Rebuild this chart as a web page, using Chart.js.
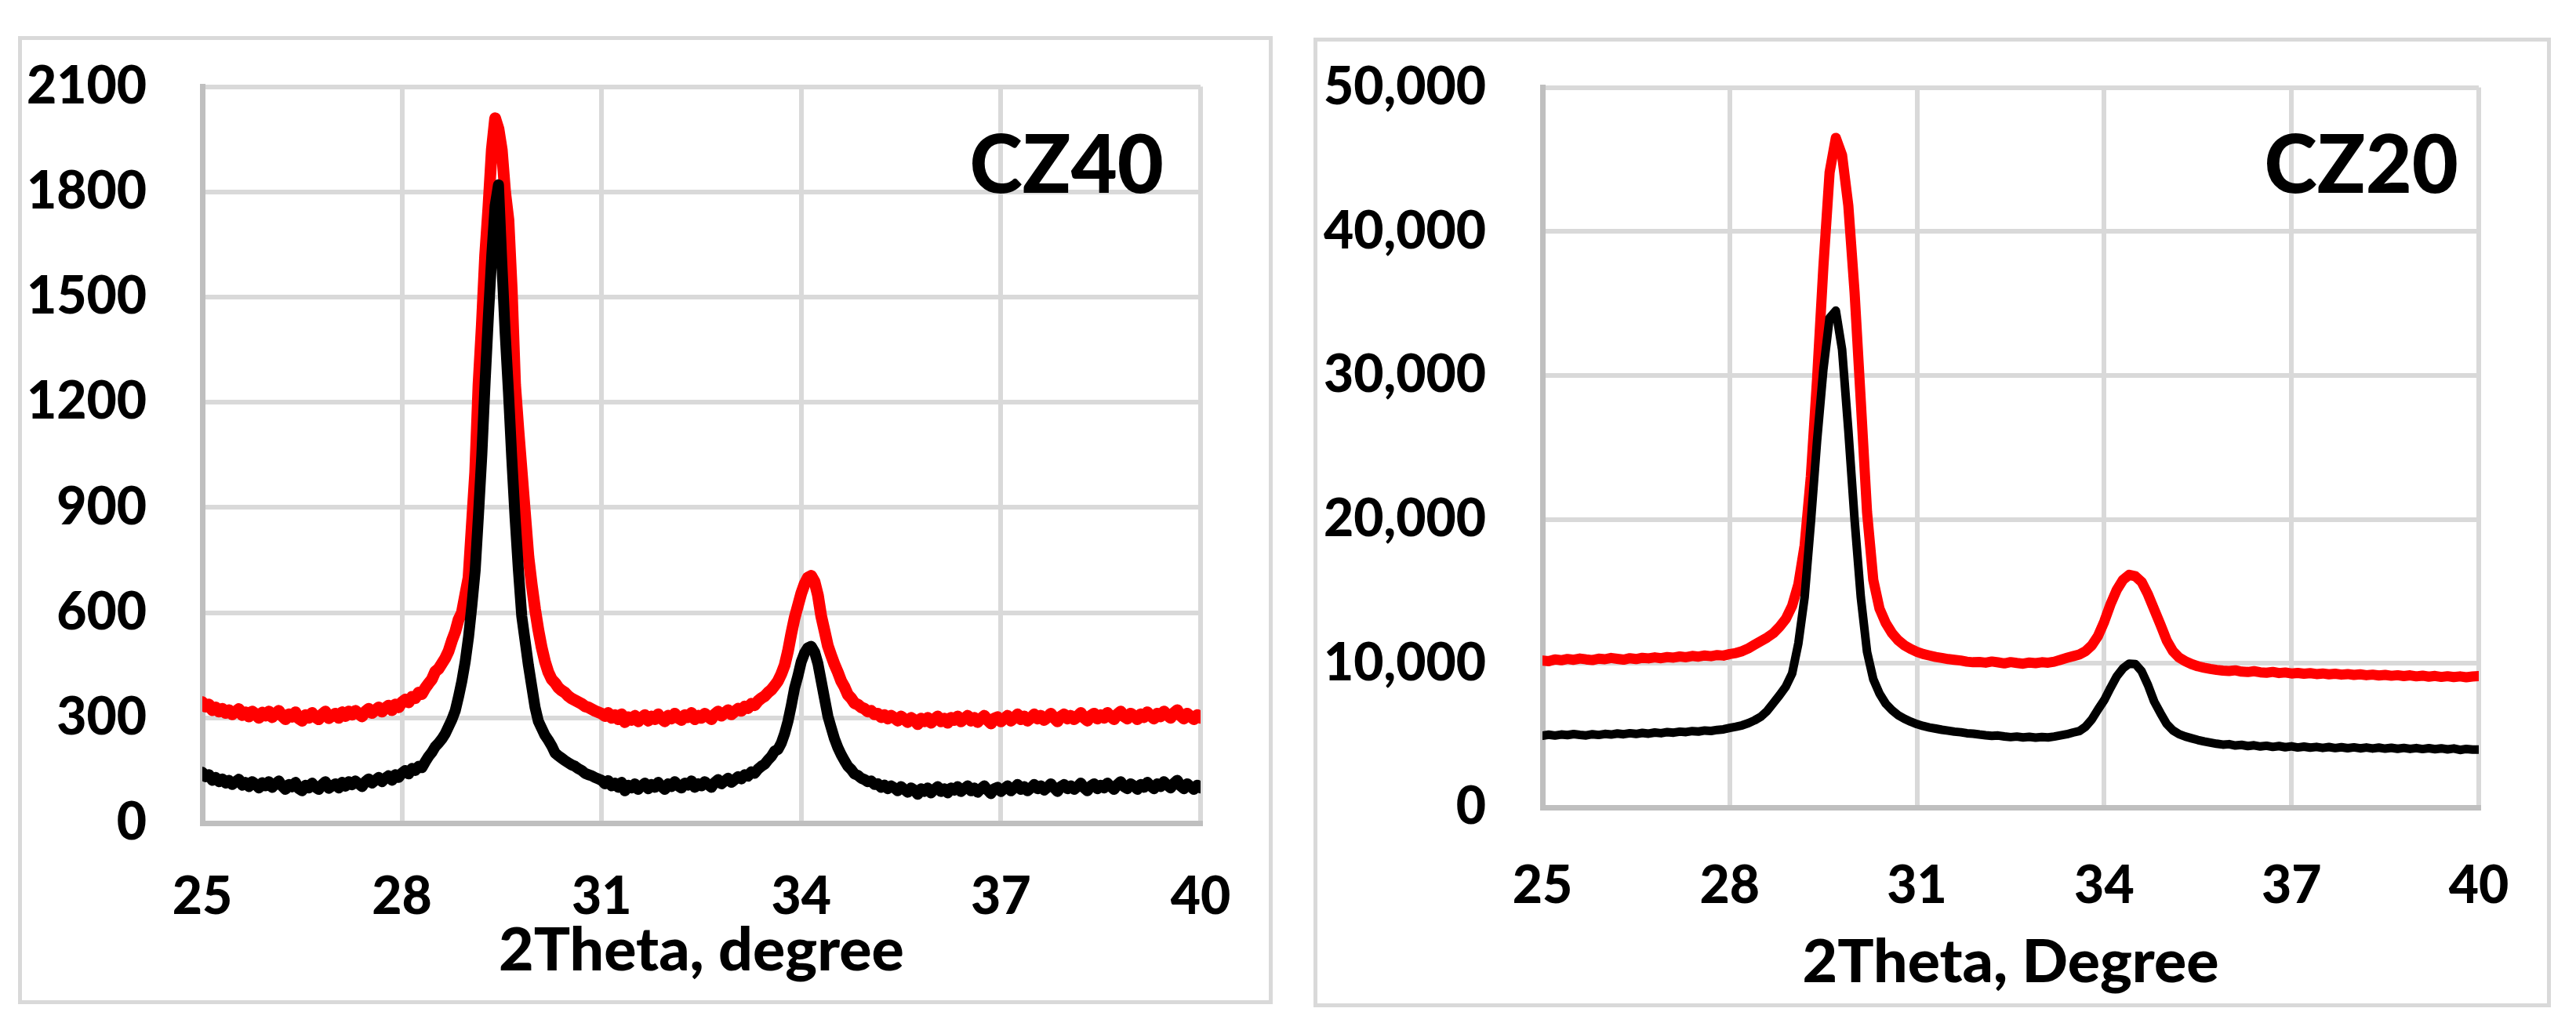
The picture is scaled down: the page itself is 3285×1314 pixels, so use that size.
<!DOCTYPE html>
<html>
<head>
<meta charset="utf-8">
<title>CZ40 / CZ20 XRD</title>
<script src="https://cdn.jsdelivr.net/npm/chart.js@4.4.0/dist/chart.umd.min.js"></script>
<style>
  html, body { margin: 0; padding: 0; background: #fff; }
  body { width: 3285px; height: 1314px; position: relative; overflow: hidden; }
  .panel { position: absolute; box-sizing: border-box; border: 5px solid #d9d9d9; }
  #panelLeft { left: 23px; top: 46px; width: 1600px; height: 1235px; }
  #panelRight { left: 1675px; top: 48px; width: 1578px; height: 1237px; }
  canvas { position: absolute; top: 0; }
  #chartLeft { left: 0; }
  #chartRight { left: 1650px; }
</style>
</head>
<body>
<div class="panel" id="panelLeft"></div>
<div class="panel" id="panelRight"></div>
<canvas id="chartLeft" width="1650" height="1314"></canvas>
<canvas id="chartRight" width="1635" height="1314"></canvas>
<script>
// 2Theta positions, CZ40 scan (0.05 degree steps)
const thetaCZ40 = [
  25,25.05,25.1,25.15,25.2,25.25,25.3,25.35,25.4,25.45,25.5,25.55,25.6,25.65,25.7,25.75,25.8,25.85,25.9,25.95,
  26,26.05,26.1,26.15,26.2,26.25,26.3,26.35,26.4,26.45,26.5,26.55,26.6,26.65,26.7,26.75,26.8,26.85,26.9,26.95,
  27,27.05,27.1,27.15,27.2,27.25,27.3,27.35,27.4,27.45,27.5,27.55,27.6,27.65,27.7,27.75,27.8,27.85,27.9,27.95,
  28,28.05,28.1,28.15,28.2,28.25,28.3,28.35,28.4,28.45,28.5,28.55,28.6,28.65,28.7,28.75,28.8,28.85,28.9,28.95,
  29,29.05,29.1,29.15,29.2,29.25,29.3,29.35,29.4,29.45,29.5,29.55,29.6,29.65,29.7,29.75,29.8,29.85,29.9,29.95,
  30,30.05,30.1,30.15,30.2,30.25,30.3,30.35,30.4,30.45,30.5,30.55,30.6,30.65,30.7,30.75,30.8,30.85,30.9,30.95,
  31,31.05,31.1,31.15,31.2,31.25,31.3,31.35,31.4,31.45,31.5,31.55,31.6,31.65,31.7,31.75,31.8,31.85,31.9,31.95,
  32,32.05,32.1,32.15,32.2,32.25,32.3,32.35,32.4,32.45,32.5,32.55,32.6,32.65,32.7,32.75,32.8,32.85,32.9,32.95,
  33,33.05,33.1,33.15,33.2,33.25,33.3,33.35,33.4,33.45,33.5,33.55,33.6,33.65,33.7,33.75,33.8,33.85,33.9,33.95,
  34,34.05,34.1,34.15,34.2,34.25,34.3,34.35,34.4,34.45,34.5,34.55,34.6,34.65,34.7,34.75,34.8,34.85,34.9,34.95,
  35,35.05,35.1,35.15,35.2,35.25,35.3,35.35,35.4,35.45,35.5,35.55,35.6,35.65,35.7,35.75,35.8,35.85,35.9,35.95,
  36,36.05,36.1,36.15,36.2,36.25,36.3,36.35,36.4,36.45,36.5,36.55,36.6,36.65,36.7,36.75,36.8,36.85,36.9,36.95,
  37,37.05,37.1,37.15,37.2,37.25,37.3,37.35,37.4,37.45,37.5,37.55,37.6,37.65,37.7,37.75,37.8,37.85,37.9,37.95,
  38,38.05,38.1,38.15,38.2,38.25,38.3,38.35,38.4,38.45,38.5,38.55,38.6,38.65,38.7,38.75,38.8,38.85,38.9,38.95,
  39,39.05,39.1,39.15,39.2,39.25,39.3,39.35,39.4,39.45,39.5,39.55,39.6,39.65,39.7,39.75,39.8,39.85,39.9,39.95,
  40
];

// CZ40 intensities (counts), one row per degree
const cz40Red = [
  345,332,338,322,330,318,326,314,322,310,318,325,308,316,304,318,311,300,315,306,
  318,302,312,320,305,296,310,303,316,298,292,308,300,314,302,296,310,318,299,306,
  312,300,316,305,318,309,320,312,304,318,326,314,322,330,318,328,335,322,338,330,
  345,352,344,360,356,372,368,385,398,410,432,440,455,470,490,520,545,580,600,650,
  700,850,1000,1250,1420,1620,1760,1920,2010,1980,1920,1800,1720,1520,1250,1120,1000,880,760,680,
  610,550,500,460,430,410,400,386,378,372,362,355,350,345,340,333,330,325,320,316,
  312,305,314,300,308,296,310,288,302,294,306,290,300,308,292,304,296,310,298,290,
  306,298,312,300,294,308,302,314,296,306,300,312,304,296,310,318,306,314,322,310,
  318,326,320,332,328,340,336,348,356,362,372,380,392,405,425,450,490,540,585,620,
  655,682,700,705,688,650,590,548,505,478,452,430,405,388,366,356,342,338,330,326,
  318,320,310,312,302,308,298,306,300,292,304,296,288,300,294,282,298,290,300,286,
  296,304,290,298,286,300,294,304,290,298,306,292,300,288,298,306,294,284,298,302,
  290,298,306,292,300,310,296,304,292,300,310,298,306,294,302,312,300,290,304,310,
  298,306,296,304,314,300,292,306,312,298,308,300,314,304,296,310,318,304,298,312,
  306,296,310,302,316,306,298,312,304,318,308,300,314,322,306,298,312,304,296,308,
  300
];
const cz40Black = [
  145,132,138,122,130,118,126,114,122,110,118,125,108,116,104,118,111,100,115,106,
  118,102,112,120,105,96,110,103,116,98,92,108,100,114,102,96,110,118,99,106,
  112,100,116,105,118,109,120,112,104,118,126,114,122,130,118,128,135,122,138,130,
  143,150,140,156,150,162,158,175,190,202,218,228,240,255,275,295,320,360,405,460,
  530,620,720,880,1050,1260,1450,1620,1760,1820,1600,1400,1230,1040,870,720,590,520,450,390,
  330,290,270,250,236,220,200,192,185,178,172,166,162,155,150,142,138,135,130,126,
  122,112,121,106,114,102,116,92,108,100,112,96,106,114,98,110,102,116,104,96,
  112,104,118,106,100,114,108,120,102,112,106,118,110,102,116,124,112,120,128,116,
  124,132,126,138,134,146,142,154,162,168,180,190,205,210,228,255,290,335,385,420,
  460,485,500,504,488,455,405,355,305,272,240,215,195,178,162,153,140,136,128,124,
  118,120,110,112,102,108,98,106,100,92,104,96,88,100,94,82,98,90,100,86,
  96,104,90,98,86,100,94,104,90,98,106,92,100,88,98,106,94,84,98,102,
  90,98,106,92,100,110,96,104,92,100,110,98,106,94,102,112,100,90,104,110,
  98,106,96,104,114,100,92,106,112,98,108,100,114,104,96,110,118,104,98,112,
  106,96,110,102,116,106,98,112,104,118,108,100,114,122,106,98,112,104,96,108,
  100
];

// 2Theta positions, CZ20 scan (0.1 degree steps)
const thetaCZ20 = [
  25,25.1,25.2,25.3,25.4,25.5,25.6,25.7,25.8,25.9,
  26,26.1,26.2,26.3,26.4,26.5,26.6,26.7,26.8,26.9,
  27,27.1,27.2,27.3,27.4,27.5,27.6,27.7,27.8,27.9,
  28,28.1,28.2,28.3,28.4,28.5,28.6,28.7,28.8,28.9,
  29,29.1,29.2,29.3,29.4,29.5,29.6,29.7,29.8,29.9,
  30,30.1,30.2,30.3,30.4,30.5,30.6,30.7,30.8,30.9,
  31,31.1,31.2,31.3,31.4,31.5,31.6,31.7,31.8,31.9,
  32,32.1,32.2,32.3,32.4,32.5,32.6,32.7,32.8,32.9,
  33,33.1,33.2,33.3,33.4,33.5,33.6,33.7,33.8,33.9,
  34,34.1,34.2,34.3,34.4,34.5,34.6,34.7,34.8,34.9,
  35,35.1,35.2,35.3,35.4,35.5,35.6,35.7,35.8,35.9,
  36,36.1,36.2,36.3,36.4,36.5,36.6,36.7,36.8,36.9,
  37,37.1,37.2,37.3,37.4,37.5,37.6,37.7,37.8,37.9,
  38,38.1,38.2,38.3,38.4,38.5,38.6,38.7,38.8,38.9,
  39,39.1,39.2,39.3,39.4,39.5,39.6,39.7,39.8,39.9,
  40
];
const cz20Red = [
  10200,10150,10280,10220,10310,10250,10340,10280,10230,10330,
  10290,10380,10320,10260,10360,10300,10390,10350,10420,10360,
  10440,10400,10480,10430,10520,10470,10550,10500,10580,10540,
  10650,10720,10850,11050,11300,11550,11800,12100,12550,13100,
  14000,15500,18200,23000,29800,37500,44100,46500,45300,41800,
  35800,28200,20500,15800,13800,12800,12100,11600,11250,11000,
  10800,10650,10550,10450,10380,10300,10250,10200,10120,10080,
  10100,10050,10130,10070,10000,10090,10030,9980,10060,10020,
  10080,10050,10120,10250,10380,10500,10620,10850,11250,11900,
  12900,14100,15100,15800,16150,16050,15650,14800,13750,12700,
  11600,10850,10400,10150,9950,9800,9700,9620,9550,9500,
  9470,9520,9430,9400,9460,9380,9350,9410,9330,9370,
  9300,9340,9280,9320,9260,9300,9240,9280,9220,9260,
  9200,9240,9180,9220,9160,9200,9140,9180,9120,9170,
  9100,9150,9080,9130,9060,9110,9050,9100,9040,9090,
  9120
];
const cz20Black = [
  4980,5050,4990,5060,5020,5090,5040,5000,5080,5030,
  5100,5060,5130,5080,5150,5100,5170,5120,5200,5150,
  5230,5190,5260,5230,5300,5270,5340,5310,5380,5420,
  5520,5600,5700,5850,6050,6300,6700,7250,7800,8400,
  9300,11400,14600,19800,25500,30400,34000,34500,31800,26200,
  20000,14600,10800,8900,7900,7200,6750,6400,6150,5950,
  5780,5650,5550,5470,5390,5330,5260,5220,5150,5120,
  5060,5010,4970,4990,4930,4880,4920,4860,4900,4850,
  4890,4860,4920,5000,5080,5200,5300,5600,6100,6800,
  7450,8300,9100,9650,9980,9950,9450,8500,7350,6550,
  5800,5350,5080,4920,4800,4680,4580,4500,4420,4360,
  4390,4300,4340,4260,4310,4230,4280,4200,4260,4180,
  4240,4160,4220,4150,4200,4130,4190,4120,4180,4110,
  4170,4100,4160,4090,4150,4080,4140,4070,4130,4060,
  4120,4050,4110,4040,4100,4030,4090,3990,4060,4020,
  4010
];

const thetaTicks = [25, 28, 31, 34, 37, 40];
const cz40Ticks = [0, 300, 600, 900, 1200, 1500, 1800, 2100];
const cz20Ticks = [0, 10000, 20000, 30000, 40000, 50000];

const GRID = '#d9d9d9';
const AXIS = '#bfbfbf';
const FONT = 'Lato';
const WEIGHT = '900';

function toPoints(xs, ys) {
  return xs.map((x, i) => ({ x: x, y: ys[i] }));
}

// big sample name in the upper right of the plot
const panelLabel = {
  id: 'panelLabel',
  afterDatasetsDraw(chart, args, opts) {
    const ctx = chart.ctx;
    ctx.save();
    ctx.font = WEIGHT + ' 102px ' + FONT;
    ctx.fillStyle = '#000';
    ctx.textAlign = 'right';
    ctx.textBaseline = 'alphabetic';
    ctx.fillText(opts.text, chart.chartArea.right - opts.inset, opts.baseline);
    ctx.restore();
  }
};

function drawPanel(canvasId, s) {
  const ctx = document.getElementById(canvasId).getContext('2d');
  return new Chart(ctx, {
    type: 'line',
    data: {
      datasets: [
        {
          data: toPoints(s.theta, s.black),
          borderColor: '#000000',
          borderWidth: s.blackWidth,
          pointRadius: 0,
          tension: 0,
          borderJoinStyle: 'round',
          borderCapStyle: 'round'
        },
        {
          data: toPoints(s.theta, s.red),
          borderColor: '#ff0000',
          borderWidth: s.redWidth,
          pointRadius: 0,
          tension: 0,
          borderJoinStyle: 'round',
          borderCapStyle: 'round'
        }
      ]
    },
    options: {
      responsive: false,
      animation: false,
      devicePixelRatio: 1,
      layout: { padding: { left: 0, top: s.top, right: s.right, bottom: 0 } },
      plugins: {
        legend: { display: false },
        tooltip: { enabled: false },
        panelLabel: { text: s.label, inset: s.labelInset, baseline: 246 }
      },
      scales: {
        x: {
          type: 'linear',
          min: 25,
          max: 40,
          afterBuildTicks: axis => { axis.ticks = thetaTicks.map(v => ({ value: v })); },
          afterFit: axis => { axis.height = s.xHeight; },
          grid: { color: GRID, lineWidth: 6, drawTicks: false },
          border: { color: AXIS, width: 7 },
          ticks: {
            color: '#000',
            padding: s.xTickPad,
            maxRotation: 0,
            font: { family: FONT, weight: WEIGHT, size: 66 }
          },
          title: {
            display: true,
            text: s.xTitle,
            color: '#000',
            padding: { top: 0, bottom: s.titlePad },
            font: { family: FONT, weight: WEIGHT, size: 77 }
          }
        },
        y: {
          type: 'linear',
          min: 0,
          max: s.yTicks[s.yTicks.length - 1],
          afterBuildTicks: axis => { axis.ticks = s.yTicks.map(v => ({ value: v })); },
          afterFit: axis => { axis.width = s.yWidth; },
          grid: { color: GRID, lineWidth: 6, drawTicks: false },
          border: { color: AXIS, width: 7 },
          ticks: {
            color: '#000',
            padding: s.yTickPad,
            font: { family: FONT, weight: WEIGHT, size: 66 },
            callback: v => s.commas ? v.toLocaleString('en-US') : String(v)
          }
        }
      }
    },
    plugins: [panelLabel]
  });
}

function drawAll() {
  drawPanel('chartLeft', {
    theta: thetaCZ40, red: cz40Red, black: cz40Black,
    redWidth: 15, blackWidth: 14,
    yTicks: cz40Ticks, commas: false,
    label: 'CZ40', labelInset: 47,
    xTitle: '2Theta, degree',
    top: 109, right: 119, yWidth: 258, xHeight: 264,
    yTickPad: 71, xTickPad: 55, titlePad: 55
  });
  drawPanel('chartRight', {
    theta: thetaCZ20, red: cz20Red, black: cz20Black,
    redWidth: 13, blackWidth: 11,
    yTicks: cz20Ticks, commas: true,
    label: 'CZ20', labelInset: 26,
    xTitle: '2Theta, Degree',
    top: 108, right: 124, yWidth: 317, xHeight: 284,
    yTickPad: 72, xTickPad: 61, titlePad: 40
  });
}

if (document.fonts && document.fonts.load) {
  Promise.all([
    document.fonts.load(WEIGHT + ' 66px Lato'),
    document.fonts.load(WEIGHT + ' 102px Lato')
  ]).then(drawAll, drawAll);
} else {
  drawAll();
}
</script>
</body>
</html>
